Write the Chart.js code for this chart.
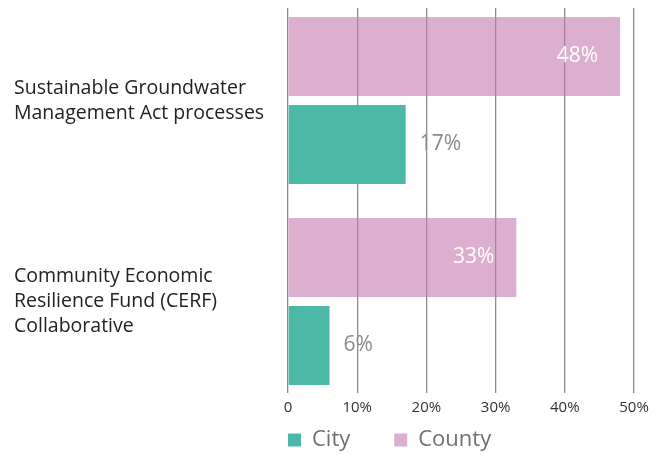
<!DOCTYPE html>
<html>
<head>
<meta charset="utf-8">
<script src="https://cdn.jsdelivr.net/npm/chart.js@4/dist/chart.umd.min.js"></script>
<style>
html,body{margin:0;padding:0;background:#fff;}
#wrap{width:662px;height:455px;}
</style>
</head>
<body>
<div id="wrap"><canvas id="c"></canvas></div>
<script>
const categories = [
  ["Sustainable Groundwater", "Management Act processes"],
  ["Community Economic", "Resilience Fund (CERF)", "Collaborative"]
];
const seriesNames = ["County", "City"];
const countyValues = [48, 33];
const cityValues = [17, 6];
const tickValues = [0, 10, 20, 30, 40, 50];

const FONT = "'Open Sans', Lato, sans-serif";
const LEGEND_PAD = 6;

const labelPlugin = {
  id: 'barLabels',
  afterLayout(chart) {
    if (chart.legend) {
      chart.legend.left -= LEGEND_PAD;
      chart.legend.right -= LEGEND_PAD;
      chart.legend.top += 6;
      chart.legend.bottom += 6;
    }
  },
  afterDatasetsDraw(chart) {
    const ctx = chart.ctx;
    ctx.save();
    ctx.font = "21px " + FONT;
    ctx.textBaseline = 'middle';
    chart.data.datasets.forEach((ds, di) => {
      const meta = chart.getDatasetMeta(di);
      meta.data.forEach((bar, i) => {
        const txt = ds.data[i].x + '%';
        if (di === 0) {
          ctx.fillStyle = '#ffffff';
          ctx.textAlign = 'right';
          ctx.fillText(txt, bar.x - 22, bar.y);
        } else {
          ctx.fillStyle = '#8a8a8a';
          ctx.textAlign = 'left';
          ctx.fillText(txt, bar.x + 14, bar.y);
        }
      });
    });
    ctx.restore();
  }
};

new Chart(document.getElementById('c'), {
  type: 'bar',
  data: {
    datasets: [
      { label: seriesNames[0], data: countyValues.map((v, i) => ({ x: v, y: i })), backgroundColor: 'rgba(197,120,177,0.6)', borderWidth: 0 },
      { label: seriesNames[1], data: cityValues.map((v, i) => ({ x: v, y: i })), backgroundColor: '#4cb8a8', borderWidth: 0 }
    ]
  },
  options: {
    indexAxis: 'y',
    responsive: true,
    maintainAspectRatio: false,
    animation: false,
    categoryPercentage: 0.8756,
    barPercentage: 0.8977,
    layout: { padding: { left: 14, right: 28, top: 8, bottom: 0 } },
    scales: {
      x: {
        type: 'linear',
        min: 0, max: 50,
        afterBuildTicks(scale) { scale.ticks = tickValues.map(v => ({ value: v })); },
        afterFit(scale) { scale.height = 24; },
        border: { display: false },
        grid: { color: '#8c8c8c', lineWidth: 1.3, drawTicks: false },
        ticks: {
          color: '#333',
          font: { family: FONT, size: 15 },
          padding: 6,
          callback: v => v === 0 ? '0' : v + '%'
        }
      },
      y: {
        type: 'linear',
        reverse: true,
        offset: false,
        min: -0.4602,
        max: 1.4552,
        afterBuildTicks(scale) { scale.ticks = categories.map((c, i) => ({ value: i })); },
        grid: { display: false, offset: false },
        border: { display: false },
        afterFit(scale) { scale.width = 274; scale.paddingTop = 0; scale.paddingBottom = 0; },
        ticks: {
          crossAlign: 'far',
          color: '#222',
          font: { family: FONT, size: 19.5, lineHeight: 1.28 },
          callback: v => categories[v]
        }
      }
    },
    plugins: {
      legend: {
        position: 'bottom',
        align: 'start',
        fullSize: false,
        reverse: true,
        labels: {
          color: '#707070',
          font: { family: FONT, size: 22 },
          boxWidth: 13,
          boxHeight: 13,
          padding: LEGEND_PAD,
          generateLabels(chart) {
            const items = Chart.defaults.plugins.legend.labels.generateLabels(chart);
            items.forEach(it => { if (it.text === 'City') it.text = 'City\u00a0\u00a0\u00a0\u00a0\u00a0\u00a0\u2009'; });
            return items;
          }
        }
      },
      tooltip: { enabled: false }
    }
  },
  plugins: [labelPlugin]
});
</script>
</body>
</html>
